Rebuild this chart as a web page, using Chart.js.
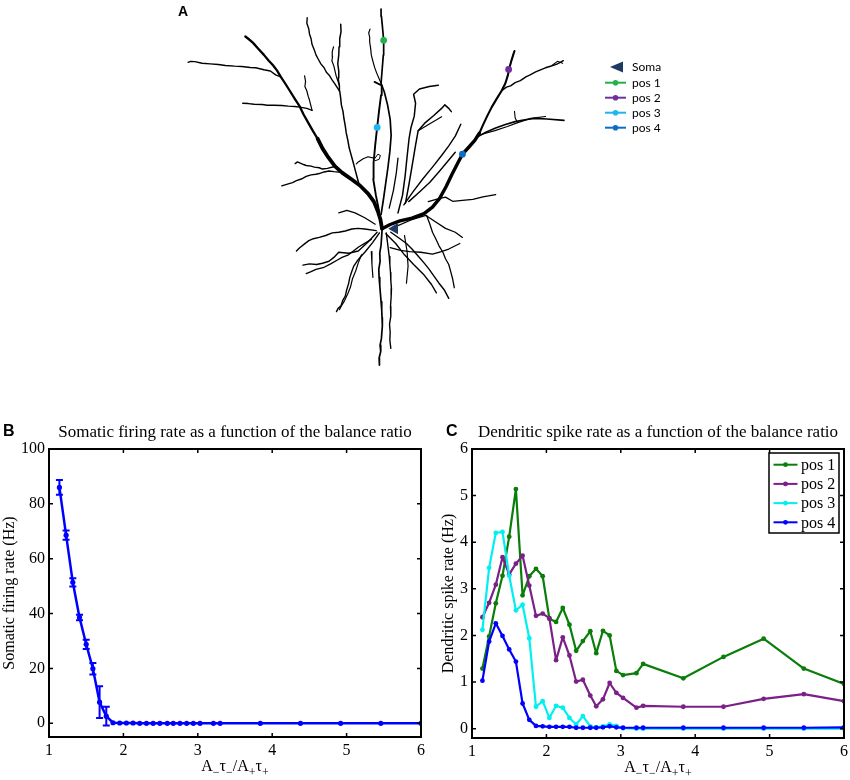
<!DOCTYPE html>
<html>
<head>
<meta charset="utf-8">
<script src="https://cdn.jsdelivr.net/npm/chart.js@4.4.0/dist/chart.umd.min.js"></script>
<style>
body{margin:0;width:850px;height:780px;background:#fff;position:relative;overflow:hidden}
canvas{position:absolute}
.lbl{position:absolute;font:bold 16px "Liberation Sans",Arial,sans-serif;line-height:16px;color:#000}
</style>
</head>
<body>
<canvas id="cellChart" width="550" height="400" style="left:150px;top:0"></canvas>
<canvas id="somaChart" width="429" height="380" style="left:0;top:400px"></canvas>
<canvas id="dendChart" width="427" height="380" style="left:425px;top:400px"></canvas>
<div class="lbl" style="left:178px;top:4px;font-size:14px;line-height:14px">A</div>
<div class="lbl" style="left:3px;top:423px">B</div>
<div class="lbl" style="left:446px;top:423px">C</div>
<script>
// ---- data: balance ratio A-tau-/A+tau+ ----
var ratio = [1.14,1.23,1.32,1.41,1.50,1.59,1.68,1.77,1.86,1.95,2.04,2.13,2.22,2.31,2.40,2.49,2.59,2.67,2.76,2.85,2.94,3.03,3.21,3.30,3.84,4.38,4.92,5.46,6.00];
var xTicks = [1,2,3,4,5,6];

// somatic firing rate (Hz) with error
var somaRate = [86.0,68.6,51.4,38.6,28.8,19.9,7.7,2.6,0.2,0.1,0.1,0.1,0,0,0,0,0,0,0,0,0,0,0,0,0,0,0,0,0];
var somaErr = [2.7,1.7,1.5,1.0,1.7,2.1,5.8,3.4,0,0,0,0,0,0,0,0,0,0,0,0,0,0,0,0,0,0,0,0,0];
var somaTicks = [0,20,40,60,80,100];

// dendritic spike rate (Hz) at the four positions
var pos1 = [1.29,1.98,2.69,3.28,4.12,5.14,2.86,3.27,3.43,3.27,2.36,2.29,2.59,2.23,1.67,1.88,2.09,1.62,2.10,2.00,1.24,1.15,1.19,1.39,1.08,1.54,1.93,1.29,0.96];
var pos2 = [2.39,2.70,3.09,3.68,3.31,3.54,3.71,3.07,2.42,2.47,2.37,1.47,1.96,1.57,1.01,1.05,0.71,0.48,0.63,0.98,0.77,0.66,0.45,0.49,0.47,0.47,0.64,0.74,0.59];
var pos3 = [2.12,3.45,4.20,4.22,3.28,2.54,2.66,1.94,0.47,0.59,0.23,0.49,0.45,0.23,0.09,0.27,0.05,0.03,0.05,0.09,0.06,0.01,0,0,0,0,0,0,0];
var pos4 = [1.03,1.87,2.26,1.99,1.70,1.44,0.54,0.19,0.06,0.05,0.04,0.04,0.04,0.04,0.02,0.02,0.02,0.02,0.03,0.05,0.03,0.02,0.02,0.02,0.02,0.02,0.02,0.02,0.03];
var posNames = ['pos 1','pos 2','pos 3','pos 4'];
var dendTicks = [0,1,2,3,4,5,6];

// ---- neuron tracing (arbitrary units, y downward) ----
var trunkApical = [[693,689],[688,660],[680,635],[668,605],[650,580],[625,555],[598,535],[570,515],[548,495],[528,468],[510,440],[495,410]];
var apicalLeft = [[495,410],[480,385],[466,360],[452,335],[440,310],[426,288],[410,262],[395,238],[382,218],[370,198],[358,182],[345,168],[330,150],[312,130],[296,112],[282,100],[273,93]];
var leftFar = [[382,218],[366,212],[350,200],[330,196],[305,190],[288,189],[262,186],[240,185],[212,183],[190,180],[165,178],[140,176],[118,171],[105,170],[97,173]];
var leftMid = [[478,322],[462,316],[440,312],[425,310],[405,309],[385,307],[360,306],[340,306],[325,304],[300,303],[282,301],[265,300]];
var leftUpper = [[455,215],[458,232],[456,248],[462,262],[466,278],[470,290],[478,322]];
var leftLow1 = [[548,496],[525,502],[510,504],[500,500],[485,498],[475,495],[460,493],[452,490],[433,482],[426,487]];
var leftLow2 = [[575,515],[545,512],[530,510],[515,513],[500,518],[490,520],[475,522],[460,527],[445,535],[430,540],[418,546],[405,550],[385,556]];
var upLong = [[622,550],[616,528],[610,505],[604,482],[598,460],[592,438],[588,415],[583,392],[580,370],[576,348],[573,325],[568,305],[566,285],[563,262],[562,245],[558,222],[560,200],[557,178],[560,150],[561,125],[563,100],[567,78],[566,55]];
var upSide = [[562,245],[552,215],[548,198],[545,185],[539,168],[541,155],[540,140],[544,125]];
var upLeft = [[562,262],[548,240],[540,228],[532,215],[522,204],[515,190],[505,178],[498,165],[490,150],[485,135],[478,118],[475,100],[470,85],[468,70],[462,52],[463,35]];
var pos1Branch = [[690,645],[697,600],[704,550],[711,500],[717,450],[721,400],[718,350],[710,305],[700,265],[690,238],[693,200],[697,150],[698,105],[694,60],[691,30],[690,8]];
var sideUp = [[690,238],[676,205],[670,188],[665,170],[660,150],[658,130],[655,110],[655,95],[652,82],[656,70]];
var pos3Branch = [[684,635],[674,585],[666,535],[667,485],[672,430],[678,375],[684,322],[690,275],[692,245],[670,234]];
var loopSmall = [[668,470],[650,466],[635,472],[620,482],[614,488]];
var loopTiny = [[672,470],[680,458],[688,462],[684,474],[672,478]];
var midShort = [[715,625],[728,570],[737,515],[742,470]];
var mid1 = [[742,640],[756,585],[764,525],[770,465],[776,410],[782,375],[792,340],[796,300],[790,272],[808,256],[838,248],[866,244]];
var mid2 = [[765,610],[776,550],[786,490],[796,430],[804,385],[826,360],[852,338],[876,316],[886,305],[897,315],[906,326]];
var mid2b = [[804,385],[832,368],[858,353],[876,342]];
var mid3 = [[760,615],[788,575],[818,535],[848,498],[876,462],[898,432],[918,402],[935,365]];
var mid4 = [[775,605],[808,575],[840,545],[870,510],[895,480],[918,452]];
var trunkRight = [[693,689],[718,676],[748,665],[785,656],[822,642],[848,622],[870,595],[890,558],[908,520],[925,487],[940,458],[958,438],[978,415],[992,393]];
var rightMain = [[992,393],[1003,368],[1016,340],[1030,312],[1046,285],[1060,262],[1072,238],[1080,212],[1083,195],[1090,170],[1096,150],[1100,138]];
var rightTop = [[1060,262],[1075,250],[1088,246],[1102,236],[1118,230],[1135,218],[1148,212],[1165,203],[1178,197],[1195,190],[1208,186],[1222,182],[1232,178],[1250,168]];
var rightTip = [[1215,183],[1232,170],[1248,176]];
var rightMid = [[985,405],[1012,390],[1042,377],[1072,366],[1102,357],[1132,351],[1162,347],[1200,349],[1252,353]];
var rightMid2 = [[1000,396],[1040,385],[1078,372],[1110,360],[1150,347],[1195,341]];
var rightTwig = [[1100,325],[1102,345],[1108,358]];
var rightHoriz = [[835,605],[862,597],[888,591],[910,604],[940,601],[972,598],[1003,590],[1042,583]];
var downMain = [[693,695],[690,740],[686,765],[687,790],[683,815],[684,840],[686,865],[688,890],[690,915],[692,940],[693,965],[694,990],[691,1030],[687,1050],[689,1070],[684,1090],[685,1112]];
var down2 = [[706,702],[712,750],[715,775],[717,800],[719,825],[720,850],[722,875],[721,900],[719,930],[720,960],[716,985],[718,1010],[717,1035],[720,1060]];
var downLeft = [[685,702],[664,732],[640,762],[628,775],[616,790],[606,805],[600,822],[594,840],[590,860],[584,880],[580,898],[572,912],[567,928],[558,936],[553,946]];
var downLeft2 = [[630,770],[620,795],[612,820],[602,845],[596,870],[588,890],[578,912],[570,925],[562,940]];
var basalL1 = [[678,700],[650,730],[620,758],[590,765],[560,762],[545,778],[530,790],[510,796],[492,800],[470,798],[450,802]];
var basalL2 = [[675,695],[640,690],[620,688],[600,690],[580,696],[560,700],[540,702],[520,710],[500,716],[482,720],[468,726],[455,736],[440,748],[430,758]];
var basalL3 = [[660,722],[622,745],[590,770],[570,778],[556,786],[535,798],[512,810],[490,815],[475,822],[460,828]];
var basalShort = [[660,760],[662,800],[665,840]];
var basalUp = [[672,675],[640,655],[610,640],[585,632],[560,640]];
var basalR1 = [[705,705],[735,735],[762,770],[790,800],[820,830],[845,862],[860,888]];
var basalR2 = [[720,700],[745,718],[768,735],[785,752],[805,775],[822,795],[838,815],[852,835],[868,858],[885,880],[898,905]];
var basalR3 = [[740,680],[782,662],[828,648],[858,668],[888,688],[918,700],[940,716]];
var basalR4 = [[718,748],[750,756],[778,760],[812,762],[848,768],[875,760],[898,752],[932,735]];
var basalR5 = [[762,710],[770,760],[773,805],[768,858]];
var basalR6 = [[830,648],[840,675],[848,700],[858,720],[868,742],[880,762],[888,782],[898,800],[904,822],[910,845],[915,872]];

var recordSites = [[698,105],[1082,195],[678,375],[940,458]];
var somaSite = [732,689];

// ---- styles ----
var posColors = ['#0a7d0a','#7b2088','#00f0f0','#0000ff'];
var siteColors = ['#22b14c','#7030a0','#1fb5f0','#0b6dc5'];
var somaColor = '#1f3864';
var serif = '"Liberation Serif","Times New Roman",serif';

Chart.defaults.font.family = serif;
Chart.defaults.font.size = 16;
Chart.defaults.color = '#000';

function toXY(pts) {
  return pts.map(function (p) { return {x: p[0], y: p[1]}; });
}

// branch list with line width
var branches = [
  [trunkApical,3.8],[trunkRight,3.4],[apicalLeft,2.3],[rightMain,2.1],[pos1Branch,1.7],[pos3Branch,1.9],
  [leftFar,1.4],[leftMid,1.4],[leftUpper,1.2],[leftLow1,1.4],[leftLow2,1.4],[upLong,1.5],[upSide,1.2],
  [upLeft,1.4],[sideUp,1.2],[loopSmall,1.2],[loopTiny,1],[midShort,1.3],[mid1,1.5],[mid2,1.5],[mid2b,1.2],[mid3,1.4],
  [mid4,1.4],[rightTop,1.4],[rightTip,1.1],[rightMid,1.6],[rightMid2,1.2],[rightTwig,1.1],[rightHoriz,1.3],
  [downMain,1.7],[down2,1.4],[downLeft,1.4],[downLeft2,1.2],[basalL1,1.4],[basalL2,1.4],[basalL3,1.3],
  [basalShort,1.2],[basalUp,1.3],[basalR1,1.4],[basalR2,1.4],[basalR3,1.3],[basalR4,1.3],[basalR5,1.2],[basalR6,1.3]
];

var cellSets = branches.map(function (b) {
  return {data: toXY(b[0]), showLine: true, borderColor: '#000', borderWidth: b[1], pointRadius: 0, tension: 0,
    borderJoinStyle: 'round', borderCapStyle: 'round', order: 1};
});
recordSites.forEach(function (p, i) {
  cellSets.push({data: toXY([p]), pointRadius: 3.4, pointBorderWidth: 0, pointBackgroundColor: siteColors[i], order: 0});
});
cellSets.push({data: toXY([somaSite]), pointStyle: 'triangle', rotation: -90, pointRadius: 6.5, pointBorderWidth: 0, pointBackgroundColor: somaColor, order: 0});

// legend of panel A
var cellLegend = {
  id: 'cellLegend',
  afterDraw: function (chart) {
    var ctx = chart.ctx;
    ctx.save();
    ctx.font = '12px Lato, "Open Sans", sans-serif';
    ctx.textBaseline = 'middle';
    ctx.fillStyle = somaColor;
    ctx.beginPath();
    ctx.moveTo(460, 67); ctx.lineTo(473, 61.5); ctx.lineTo(473, 72.5); ctx.closePath();
    ctx.fill();
    ctx.fillStyle = '#000';
    ctx.fillText('Soma', 482, 67);
    posNames.forEach(function (name, i) {
      var y = 82.7 + i * 15;
      ctx.strokeStyle = siteColors[i]; ctx.lineWidth = 2;
      ctx.beginPath(); ctx.moveTo(455, y); ctx.lineTo(476, y); ctx.stroke();
      ctx.fillStyle = siteColors[i];
      ctx.beginPath(); ctx.arc(465.5, y, 2.8, 0, Math.PI * 2); ctx.fill();
      ctx.fillStyle = '#000';
      ctx.fillText(name, 482, y);
    });
    ctx.restore();
  }
};

new Chart(document.getElementById('cellChart'), {
  type: 'scatter',
  data: {datasets: cellSets},
  options: {
    responsive: false, animation: false,
    layout: {padding: 0},
    plugins: {legend: {display: false}, tooltip: {enabled: false}},
    scales: {
      x: {display: false, min: 0, max: 1650},
      y: {display: false, min: 0, max: 1200, reverse: true}
    }
  },
  plugins: [cellLegend]
});

// ---- shared plugins for B and C ----
function drawRatioLabel(ctx, cx, base) {
  var parts = [['A',0],['\u2212',1],['\u03c4',0],['\u2212',1],['/A',0],['+',1],['\u03c4',0],['+',1]];
  var w = 0;
  parts.forEach(function (p) {
    ctx.font = (p[1] ? '12px ' : '16px ') + serif;
    w += ctx.measureText(p[0]).width;
  });
  var x = cx - w / 2;
  ctx.textAlign = 'left';
  ctx.textBaseline = 'alphabetic';
  parts.forEach(function (p) {
    ctx.font = (p[1] ? '12px ' : '16px ') + serif;
    ctx.fillText(p[0], x, base + (p[1] ? 5 : 0));
    x += ctx.measureText(p[0]).width;
  });
}

var boxAxes = {
  id: 'boxAxes',
  afterDatasetsDraw: function (chart, args, opts) {
    var ctx = chart.ctx, a = chart.chartArea, xs = chart.scales.x, ys = chart.scales.y;
    ctx.save();
    ctx.strokeStyle = '#000';
    ctx.lineWidth = 1.5;
    ctx.beginPath();
    xs.ticks.forEach(function (t) {
      var px = xs.getPixelForValue(t.value);
      ctx.moveTo(px, a.bottom); ctx.lineTo(px, a.bottom - 4);
      ctx.moveTo(px, a.top); ctx.lineTo(px, a.top + 4);
    });
    ys.ticks.forEach(function (t) {
      var py = ys.getPixelForValue(t.value);
      ctx.moveTo(a.left, py); ctx.lineTo(a.left + 4, py);
      ctx.moveTo(a.right, py); ctx.lineTo(a.right - 4, py);
    });
    ctx.stroke();
    ctx.lineWidth = 2;
    ctx.strokeRect(a.left, a.top, a.right - a.left, a.bottom - a.top);

    ctx.fillStyle = '#000';
    ctx.font = '17px ' + serif;
    ctx.textAlign = 'center';
    ctx.textBaseline = 'alphabetic';
    ctx.fillText(opts.title, (a.left + a.right) / 2, a.top - 12);
    ctx.font = '16px ' + serif;
    ctx.save();
    ctx.translate(opts.yTitleX, (a.top + a.bottom) / 2);
    ctx.rotate(-Math.PI / 2);
    ctx.fillText(opts.yTitle, 0, 0);
    ctx.restore();
    drawRatioLabel(ctx, (a.left + a.right) / 2, a.bottom + 34);
    ctx.restore();
  }
};

var errorBars = {
  id: 'errorBars',
  afterDatasetsDraw: function (chart) {
    var ctx = chart.ctx, xs = chart.scales.x, ys = chart.scales.y;
    ctx.save();
    ctx.strokeStyle = '#0000ff';
    ctx.lineWidth = 2;
    ctx.beginPath();
    ratio.forEach(function (r, i) {
      if (!somaErr[i]) return;
      var px = xs.getPixelForValue(r);
      var top = ys.getPixelForValue(somaRate[i] + somaErr[i]);
      var bot = ys.getPixelForValue(somaRate[i] - somaErr[i]);
      ctx.moveTo(px, top); ctx.lineTo(px, bot);
      ctx.moveTo(px - 3.5, top); ctx.lineTo(px + 3.5, top);
      ctx.moveTo(px - 3.5, bot); ctx.lineTo(px + 3.5, bot);
    });
    ctx.stroke();
    ctx.restore();
  }
};

var dendLegend = {
  id: 'dendLegend',
  afterDraw: function (chart) {
    var ctx = chart.ctx, a = chart.chartArea;
    var x0 = a.right - 75, y0 = a.top + 4, w = 70, h = 80;
    ctx.save();
    ctx.fillStyle = '#fff';
    ctx.fillRect(x0, y0, w, h);
    ctx.strokeStyle = '#000';
    ctx.lineWidth = 1.5;
    ctx.strokeRect(x0, y0, w, h);
    ctx.font = '16px ' + serif;
    ctx.textBaseline = 'middle';
    ctx.textAlign = 'left';
    posNames.forEach(function (name, i) {
      var y = y0 + 11.7 + i * 19.2;
      ctx.strokeStyle = posColors[i];
      ctx.lineWidth = 2;
      ctx.beginPath(); ctx.moveTo(x0 + 4.5, y); ctx.lineTo(x0 + 28.5, y); ctx.stroke();
      ctx.fillStyle = posColors[i];
      ctx.beginPath(); ctx.arc(x0 + 16.5, y, 2.4, 0, Math.PI * 2); ctx.fill();
      ctx.fillStyle = '#000';
      ctx.fillText(name, x0 + 32, y + 1);
    });
    ctx.restore();
  }
};

function axisX(height) {
  return {
    type: 'linear', min: 1, max: 6,
    grid: {display: false, drawTicks: false}, border: {display: false},
    ticks: {padding: 4, font: {size: 16}},
    afterBuildTicks: function (s) { s.ticks = xTicks.map(function (v) { return {value: v}; }); },
    afterFit: function (s) { s.height = height; }
  };
}

function axisY(min, max, tickVals, width) {
  return {
    type: 'linear', min: min, max: max,
    grid: {display: false, drawTicks: false}, border: {display: false},
    ticks: {padding: 4, font: {size: 16}},
    afterBuildTicks: function (s) { s.ticks = tickVals.map(function (v) { return {value: v}; }); },
    afterFit: function (s) { s.width = width; }
  };
}

// ---- B: somatic firing rate ----
new Chart(document.getElementById('somaChart'), {
  type: 'line',
  data: {
    datasets: [{
      data: ratio.map(function (r, i) { return {x: r, y: somaRate[i]}; }),
      borderColor: '#0000ff', borderWidth: 2.5, tension: 0, borderJoinStyle: 'round',
      pointRadius: 2.6, pointBorderWidth: 0, pointBackgroundColor: '#0000ff'
    }]
  },
  options: {
    responsive: false, animation: false,
    layout: {padding: {top: 49, right: 0, bottom: 0, left: 0}},
    plugins: {
      legend: {display: false}, tooltip: {enabled: false},
      boxAxes: {title: 'Somatic firing rate as a function of the balance ratio', yTitle: 'Somatic firing rate (Hz)', yTitleX: 14}
    },
    scales: {x: axisX(43), y: axisY(-5, 100, somaTicks, 49)}
  },
  plugins: [boxAxes, errorBars]
});

// ---- C: dendritic spike rate ----
var dendSeries = [pos1, pos2, pos3, pos4];
new Chart(document.getElementById('dendChart'), {
  type: 'line',
  data: {
    datasets: dendSeries.map(function (vals, k) {
      return {
        label: posNames[k],
        data: ratio.map(function (r, i) { return {x: r, y: vals[i]}; }),
        borderColor: posColors[k], borderWidth: 2.2, tension: 0, borderJoinStyle: 'round',
        pointRadius: 2.4, pointBorderWidth: 0, pointBackgroundColor: posColors[k],
        order: 4 - k
      };
    })
  },
  options: {
    responsive: false, animation: false,
    layout: {padding: {top: 49, right: 0, bottom: 0, left: 0}},
    plugins: {
      legend: {display: false}, tooltip: {enabled: false},
      boxAxes: {title: 'Dendritic spike rate as a function of the balance ratio', yTitle: 'Dendritic spike rate (Hz)', yTitleX: 28}
    },
    scales: {x: axisX(42), y: axisY(-0.2, 6, dendTicks, 47)}
  },
  plugins: [boxAxes, dendLegend]
});
</script>
</body>
</html>
